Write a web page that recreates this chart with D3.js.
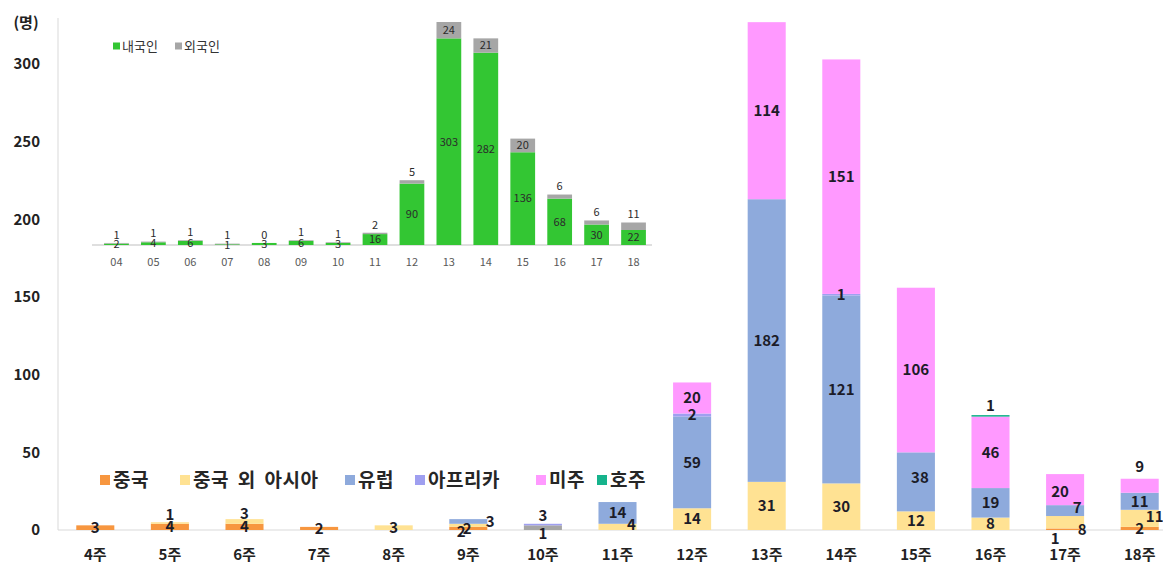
<!DOCTYPE html>
<html>
<head>
<meta charset="utf-8">
<script src="https://cdn.jsdelivr.net/npm/d3@7"></script>
<style>
  body { margin: 0; background: #fff; }
  svg { font-family: "Noto Sans CJK KR", "Noto Sans", sans-serif; }
</style>
</head>
<body>
<div id="chart"></div>
<script>
// ---------- data: main chart (weekly imported cases by region) ----------
const weeks = ["4주","5주","6주","7주","8주","9주","10주","11주","12주","13주","14주","15주","16주","17주","18주"];
const seriesNames = ["기타","중국","중국 외 아시아","유럽","아프리카","미주","호주"];
const other    = [0,0,0,0,0,0,3,0,0,0,0,0,0,0,0];
const china    = [3,4,4,2,0,2,0,0,0,0,0,0,0,1,2];
const asiaEx   = [0,1,3,0,3,2,0,4,14,31,30,12,8,8,11];
const europe   = [0,0,0,0,0,3,0,14,59,182,121,38,19,7,11];
const africa   = [0,0,0,0,0,0,1,0,2,0,1,0,0,0,0];
const americas = [0,0,0,0,0,0,0,0,20,114,151,106,46,20,9];
const oceania  = [0,0,0,0,0,0,0,0,0,0,0,0,1,0,0];
const yTicks = [0,50,100,150,200,250,300];

// ---------- data: inset (domestic / foreign) ----------
const insetWeeks = ["04","05","06","07","08","09","10","11","12","13","14","15","16","17","18"];
const domestic = [2,4,6,1,3,6,3,16,90,303,282,136,68,30,22];
const foreign  = [1,1,1,1,0,1,1,2,5,24,21,20,6,6,11];

const width = 1163, height = 566;
const colors = {
  "기타": "#a6a6a6",
  "중국": "#f7963f",
  "중국 외 아시아": "#ffe293",
  "유럽": "#8eaadc",
  "아프리카": "#9f9ff0",
  "미주": "#ff99ff",
  "호주": "#16b38c"
};
const legendNames = ["중국","중국 외 아시아","유럽","아프리카","미주","호주"];

// label nudges (px) for tiny segments, like hand-moved labels in the original
const nudge = {
  "5주|중국 외 아시아": [0,-8],
  "6주|중국 외 아시아": [0,-8],
  "9주|중국": [-7,3],
  "9주|중국 외 아시아": [-1,3],
  "9주|유럽": [22,0],
  "10주|기타": [0,-12],
  "10주|아프리카": [0,9],
  "11주|중국 외 아시아": [14,-2],
  "15주|유럽": [4,-4],
  "16주|호주": [0,-10],
  "17주|중국": [-10,10],
  "17주|중국 외 아시아": [17,8],
  "17주|유럽": [12,-3],
  "17주|미주": [-5,2],
  "18주|중국 외 아시아": [15,-2],
  "18주|미주": [0,-19]
};

const svg = d3.select("#chart").append("svg")
  .attr("width", width).attr("height", height);

// ---------- main chart ----------
const valuesBy = {"기타": other, "중국": china, "중국 외 아시아": asiaEx, "유럽": europe,
  "아프리카": africa, "미주": americas, "호주": oceania};
const table = weeks.map((w, i) => {
  const row = {week: w};
  seriesNames.forEach(s => row[s] = valuesBy[s][i]);
  return row;
});
const stacked = d3.stack().keys(seriesNames)(table);

const x = d3.scaleBand().domain(weeks).range([58, 1177]).paddingInner(0.49).paddingOuter(0.245);
const y = d3.scaleLinear().domain([0, 330]).range([530, 17.5]);

// axis lines
svg.append("line").attr("x1", 58).attr("x2", 58).attr("y1", 18).attr("y2", 530)
  .attr("stroke", "#d9d9d9");
svg.append("line").attr("x1", 58).attr("x2", width).attr("y1", 530).attr("y2", 530)
  .attr("stroke", "#d9d9d9");

// y tick labels
svg.append("g").selectAll("text").data(yTicks).join("text")
  .attr("x", 40).attr("y", d => y(d)).attr("dy", "0.35em")
  .attr("text-anchor", "end").attr("font-size", 15).attr("font-weight", "bold")
  .attr("fill", "#222").text(d => d);
svg.append("text").attr("x", 26).attr("y", 23).attr("dy", "0.35em")
  .attr("text-anchor", "middle").attr("font-size", 15).attr("font-weight", "bold")
  .attr("fill", "#222").text("(명)");

// x labels
svg.append("g").selectAll("text").data(weeks).join("text")
  .attr("x", d => x(d) + x.bandwidth() / 2).attr("y", 555).attr("dy", "0.35em")
  .attr("text-anchor", "middle").attr("font-size", 15).attr("font-weight", "bold")
  .attr("fill", "#222").text(d => d);

// bars
const layer = svg.append("g").selectAll("g").data(stacked).join("g")
  .attr("fill", d => colors[d.key]);
layer.selectAll("rect").data(d => d.filter(p => p[1] > p[0])).join("rect")
  .attr("x", d => x(d.data.week))
  .attr("width", x.bandwidth())
  .attr("y", d => y(d[1]))
  .attr("height", d => y(d[0]) - y(d[1]));

// bar labels
const labels = [];
stacked.forEach(s => s.forEach(p => {
  const v = p[1] - p[0];
  if (v > 0) labels.push({key: s.key, week: p.data.week, v, mid: (p[0] + p[1]) / 2});
}));
svg.append("g").selectAll("text").data(labels).join("text")
  .attr("x", d => x(d.week) + x.bandwidth() / 2 + (nudge[d.week + "|" + d.key] || [0,0])[0])
  .attr("y", d => y(d.mid) + (nudge[d.week + "|" + d.key] || [0,0])[1])
  .attr("dy", "0.35em").attr("text-anchor", "middle")
  .attr("font-size", 15).attr("font-weight", "bold").attr("fill", "#1c1c28")
  .text(d => d.v);

// legend
const legendX = [100, 180, 345, 415, 536, 597];
const lg = svg.append("g").selectAll("g").data(legendNames).join("g")
  .attr("transform", (d, i) => `translate(${legendX[i]},480)`);
lg.append("rect").attr("x", 0).attr("y", -5).attr("width", 10).attr("height", 10)
  .attr("fill", d => colors[d]);
lg.append("text").attr("x", 13).attr("dy", "0.36em").attr("font-size", 19)
  .attr("font-weight", "bold").attr("word-spacing", 4).attr("letter-spacing", 0.5)
  .attr("fill", "#262626").text(d => d);

// ---------- inset chart ----------
const ix = d3.scaleBand().domain(insetWeeks).range([98, 652]).paddingInner(0.33).paddingOuter(0.165);
const iy = d3.scaleLinear().domain([0, 327]).range([245, 22]);
const inset = svg.append("g");

inset.append("line").attr("x1", 92).attr("x2", 652).attr("y1", 245).attr("y2", 245)
  .attr("stroke", "#bfbfbf");

inset.selectAll("rect.dom").data(insetWeeks).join("rect").attr("class", "dom")
  .attr("x", d => ix(d)).attr("width", ix.bandwidth())
  .attr("y", (d, i) => iy(domestic[i]))
  .attr("height", (d, i) => iy(0) - iy(domestic[i]))
  .attr("fill", "#33c633");
inset.selectAll("rect.for").data(insetWeeks).join("rect").attr("class", "for")
  .attr("x", d => ix(d)).attr("width", ix.bandwidth())
  .attr("y", (d, i) => iy(domestic[i] + foreign[i]))
  .attr("height", (d, i) => iy(domestic[i]) - iy(domestic[i] + foreign[i]))
  .attr("fill", "#a6a6a6");

// domestic labels at segment centre
inset.selectAll("text.dl").data(insetWeeks).join("text").attr("class", "dl")
  .attr("x", d => ix(d) + ix.bandwidth() / 2)
  .attr("y", (d, i) => Math.min(iy(domestic[i] / 2), 246))
  .attr("dy", "0.35em").attr("text-anchor", "middle")
  .attr("font-size", 11).attr("fill", "#2b2b2b").text((d, i) => domestic[i]);
// foreign labels: centre if room, otherwise above the bar
inset.selectAll("text.fl").data(insetWeeks).join("text").attr("class", "fl")
  .attr("x", d => ix(d) + ix.bandwidth() / 2)
  .attr("y", (d, i) => {
    const top = iy(domestic[i] + foreign[i]), bot = iy(domestic[i]);
    return (bot - top) >= 11 ? (top + bot) / 2 : top - 8;
  })
  .attr("dy", "0.35em").attr("text-anchor", "middle")
  .attr("font-size", 11).attr("fill", "#2b2b2b").text((d, i) => foreign[i]);

inset.selectAll("text.xl").data(insetWeeks).join("text").attr("class", "xl")
  .attr("x", d => ix(d) + ix.bandwidth() / 2).attr("y", 262).attr("dy", "0.35em")
  .attr("text-anchor", "middle").attr("font-size", 11).attr("fill", "#595959").text(d => d);

// inset legend
const il = inset.append("g").selectAll("g").data([["내국인", "#33c633"], ["외국인", "#a6a6a6"]]).join("g")
  .attr("transform", (d, i) => `translate(${113 + i * 62},46)`);
il.append("rect").attr("x", 0).attr("y", -3.5).attr("width", 7).attr("height", 7).attr("fill", d => d[1]);
il.append("text").attr("x", 9).attr("dy", "0.35em").attr("font-size", 13)
  .attr("fill", "#333").text(d => d[0]);
</script>
</body>
</html>
